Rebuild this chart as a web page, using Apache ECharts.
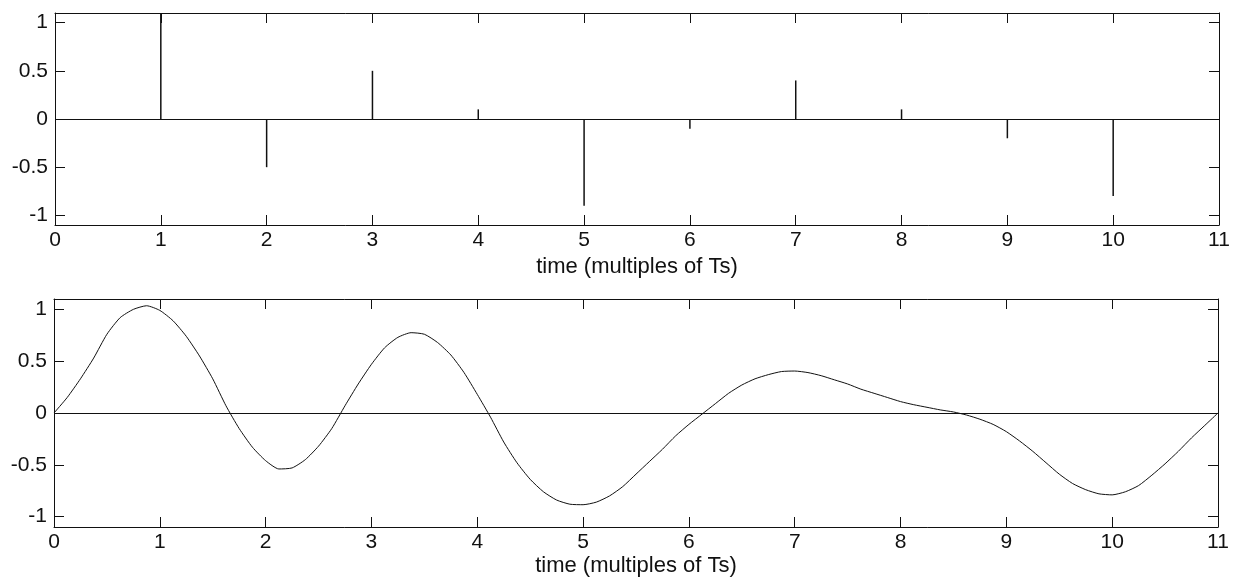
<!DOCTYPE html>
<html>
<head>
<meta charset="utf-8">
<script src="https://cdn.jsdelivr.net/npm/echarts@6/dist/echarts.min.js"></script>
<style>
  html, body { margin: 0; padding: 0; background: #fff; }
  #chart { width: 1235px; height: 579px; }
</style>
</head>
<body>
<div id="chart"></div>
<script>
// Sampled impulse train (top panel)
const sampleTimes = [0, 1, 2, 3, 4, 5, 6, 7, 8, 9, 10, 11];
const sampleValues = [0, 1.1, -0.5, 0.5, 0.1, -0.9, -0.1, 0.4, 0.1, -0.2, -0.8, 0];

// Reconstructed continuous signal (bottom panel), one value every 1/8 Ts
const curveTimes = [
  0, 0.125, 0.25, 0.375, 0.5, 0.625, 0.75, 0.875,
  1, 1.125, 1.25, 1.375, 1.5, 1.625, 1.75, 1.875,
  2, 2.125, 2.25, 2.375, 2.5, 2.625, 2.75, 2.875,
  3, 3.125, 3.25, 3.375, 3.5, 3.625, 3.75, 3.875,
  4, 4.125, 4.25, 4.375, 4.5, 4.625, 4.75, 4.875,
  5, 5.125, 5.25, 5.375, 5.5, 5.625, 5.75, 5.875,
  6, 6.125, 6.25, 6.375, 6.5, 6.625, 6.75, 6.875,
  7, 7.125, 7.25, 7.375, 7.5, 7.625, 7.75, 7.875,
  8, 8.125, 8.25, 8.375, 8.5, 8.625, 8.75, 8.875,
  9, 9.125, 9.25, 9.375, 9.5, 9.625, 9.75, 9.875,
  10, 10.125, 10.25, 10.375, 10.5, 10.625, 10.75, 10.875,
  11
];
const curveValues = [
  0, 0.15, 0.33, 0.53, 0.76, 0.92, 1.0, 1.035,
  0.99, 0.89, 0.74, 0.55, 0.33, 0.07, -0.15, -0.33,
  -0.46, -0.54, -0.53, -0.45, -0.32, -0.15, 0.07, 0.28,
  0.47, 0.63, 0.73, 0.775, 0.76, 0.68, 0.56, 0.39,
  0.18, -0.04, -0.28, -0.48, -0.64, -0.76, -0.84, -0.88,
  -0.885, -0.86, -0.80, -0.71, -0.59, -0.47, -0.35, -0.22,
  -0.11, -0.01, 0.09, 0.19, 0.27, 0.33, 0.37, 0.40,
  0.405, 0.39, 0.36, 0.32, 0.28, 0.23, 0.19, 0.15,
  0.11, 0.08, 0.055, 0.03, 0.01, -0.02, -0.06, -0.11,
  -0.18, -0.27, -0.37, -0.48, -0.59, -0.68, -0.74, -0.78,
  -0.79, -0.76, -0.70, -0.60, -0.49, -0.37, -0.24, -0.12,
  0
];

// Axis ticks
const xTicks = [0, 1, 2, 3, 4, 5, 6, 7, 8, 9, 10, 11];
const yTicks = [-1, -0.5, 0, 0.5, 1];
const xLabel = 'time (multiples of Ts)';

const FONT = 'Liberation Sans, Arial, sans-serif';
const INK = '#111';

function xAxes(gridIndex, nameGap) {
  const common = {
    type: 'value', gridIndex, min: 0, max: 11, interval: 1,
    splitLine: { show: false },
    axisLine: { show: true, onZero: false, lineStyle: { color: INK, width: 1 } },
    axisTick: { show: true, inside: true, length: 10, customValues: xTicks, lineStyle: { color: INK, width: 1 } }
  };
  return [
    Object.assign({}, common, {
      position: 'bottom',
      name: xLabel, nameLocation: 'middle', nameGap,
      nameTextStyle: { color: INK, fontSize: 22, fontFamily: FONT },
      axisLabel: { show: true, color: INK, fontSize: 21, fontFamily: FONT, margin: 5, customValues: xTicks }
    }),
    Object.assign({}, common, { position: 'top', axisLabel: { show: false } })
  ];
}

function yAxes(gridIndex) {
  const common = {
    type: 'value', gridIndex, min: -1.1, max: 1.1,
    splitLine: { show: false },
    axisLine: { show: true, onZero: false, lineStyle: { color: INK, width: 1 } },
    axisTick: { show: true, inside: true, length: 10, customValues: yTicks, lineStyle: { color: INK, width: 1 } }
  };
  return [
    Object.assign({}, common, {
      position: 'left',
      axisLabel: { show: true, color: INK, fontSize: 21, fontFamily: FONT, margin: 7, customValues: yTicks }
    }),
    Object.assign({}, common, { position: 'right', axisLabel: { show: false } })
  ];
}

const zeroLine = {
  silent: true, symbol: 'none', label: { show: false },
  lineStyle: { color: INK, width: 1, type: 'solid' },
  data: [{ yAxis: 0 }]
};

const chart = echarts.init(document.getElementById('chart'), null, { renderer: 'canvas' });
chart.setOption({
  animation: false,
  backgroundColor: '#fff',
  grid: [
    { left: 55, right: 16, top: 13, height: 212 },
    { left: 54, right: 17, top: 299, height: 228 }
  ],
  xAxis: [].concat(xAxes(0, 31), xAxes(1, 28)),
  yAxis: [].concat(yAxes(0), yAxes(1)),
  series: [
    {
      type: 'bar', xAxisIndex: 0, yAxisIndex: 0,
      barWidth: 1.5,
      itemStyle: { color: INK },
      data: sampleTimes.map((t, i) => [t, sampleValues[i]]),
      markLine: zeroLine
    },
    {
      type: 'line', xAxisIndex: 2, yAxisIndex: 2,
      smooth: 0.2, showSymbol: false,
      lineStyle: { color: INK, width: 1 },
      data: curveTimes.map((t, i) => [t, curveValues[i]]),
      markLine: zeroLine
    }
  ]
});
</script>
</body>
</html>
